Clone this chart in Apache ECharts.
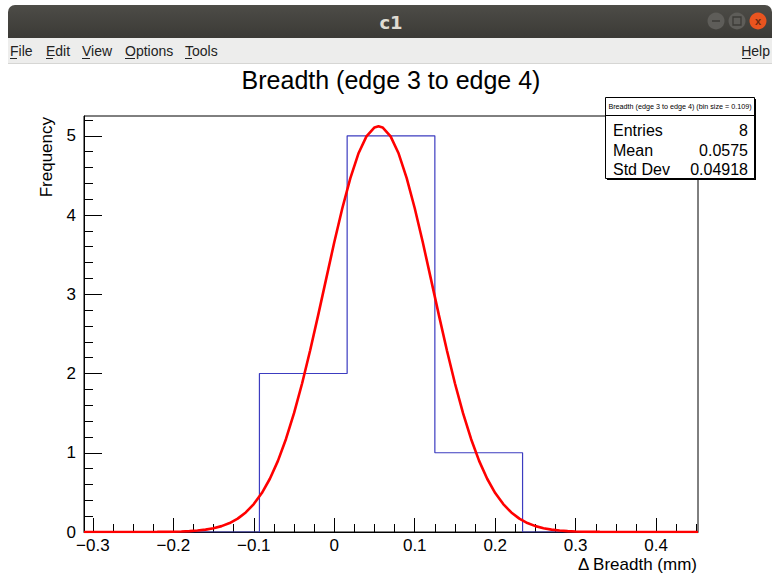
<!DOCTYPE html>
<html>
<head>
<meta charset="utf-8">
<script src="https://cdn.jsdelivr.net/npm/echarts@6/dist/echarts.min.js"></script>
<style>
html,body{margin:0;padding:0;background:#fff;}
#c{width:772px;height:584px;}
</style>
</head>
<body>
<div id="c"></div>
<script>
// ---- data ----
var binEdges = [-0.311, -0.202, -0.093, 0.016, 0.125, 0.234, 0.343, 0.452];
var binCounts = [0, 0, 2, 5, 1, 0, 0];
var fitX = [-0.311, -0.22, -0.21, -0.20, -0.19, -0.18, -0.17, -0.16, -0.15, -0.14, -0.13, -0.12, -0.11, -0.10, -0.09, -0.08, -0.07, -0.06, -0.05, -0.04, -0.03, -0.02, -0.01, 0.00, 0.01, 0.02, 0.03, 0.04, 0.05, 0.055, 0.06, 0.07, 0.08, 0.09, 0.10, 0.11, 0.12, 0.13, 0.14, 0.15, 0.16, 0.17, 0.18, 0.19, 0.20, 0.21, 0.22, 0.23, 0.24, 0.25, 0.26, 0.27, 0.28, 0.29, 0.30, 0.31, 0.32, 0.33, 0.452];
var fitY = [0, 0.0011, 0.0021, 0.0037, 0.0064, 0.0109, 0.0182, 0.0297, 0.0475, 0.0741, 0.1133, 0.169, 0.247, 0.352, 0.492, 0.672, 0.898, 1.174, 1.500, 1.874, 2.290, 2.737, 3.198, 3.656, 4.086, 4.467, 4.776, 4.993, 5.106, 5.12, 5.106, 4.993, 4.776, 4.467, 4.086, 3.656, 3.198, 2.737, 2.290, 1.874, 1.500, 1.174, 0.898, 0.672, 0.492, 0.352, 0.247, 0.169, 0.1133, 0.0741, 0.0475, 0.0297, 0.0182, 0.0109, 0.0064, 0.0037, 0.0021, 0.0011, 0];
var xMajorTicks = [-0.3, -0.2, -0.1, 0, 0.1, 0.2, 0.3, 0.4];
var xTickLabels = ['\u22120.3', '\u22120.2', '\u22120.1', '0', '0.1', '0.2', '0.3', '0.4'];
var xMinorTicks = [-0.3, -0.275, -0.25, -0.225, -0.2, -0.175, -0.15, -0.125, -0.1, -0.075, -0.05, -0.025, 0, 0.025, 0.05, 0.075, 0.1, 0.125, 0.15, 0.175, 0.2, 0.225, 0.25, 0.275, 0.3, 0.325, 0.35, 0.375, 0.4, 0.425, 0.45];
var yMajorTicks = [0, 1, 2, 3, 4, 5];
var yTickLabels = ['0', '1', '2', '3', '4', '5'];
var yMinorTicks = [0, 0.2, 0.4, 0.6, 0.8, 1, 1.2, 1.4, 1.6, 1.8, 2, 2.2, 2.4, 2.6, 2.8, 3, 3.2, 3.4, 3.6, 3.8, 4, 4.2, 4.4, 4.6, 4.8, 5, 5.2];
var statsLabels = ['Entries', 'Mean', 'Std Dev'];
var statsValues = ['8', '0.0575', '0.04918'];
var chartTitle = 'Breadth (edge 3 to edge 4)';
var statsTitle = 'Breadth (edge 3 to edge 4) (bin size = 0.109)';
var menuItems = ['File', 'Edit', 'View', 'Options', 'Tools'];

// ---- build ----
var histData = [];
for (var i = 0; i < binCounts.length; i++) histData.push([binEdges[i], binCounts[i]]);
histData.push([binEdges[binEdges.length - 1], binCounts[binCounts.length - 1]]);
var fitData = fitX.map(function (x, i) { return [x, fitY[i]]; });

var FONT = '"Liberation Sans", Arial, Helvetica, sans-serif';
var X0 = 84, Y0 = 116, W = 614, H = 416;

function fmtX(v) {
  var idx = xMajorTicks.findIndex(function (t) { return Math.abs(t - v) < 1e-9; });
  return idx >= 0 ? xTickLabels[idx] : '';
}
function fmtY(v) {
  var idx = yMajorTicks.findIndex(function (t) { return Math.abs(t - v) < 1e-9; });
  return idx >= 0 ? yTickLabels[idx] : '';
}

var chart = echarts.init(document.getElementById('c'), null, { renderer: 'svg' });

var graphics = [];
// window title bar
graphics.push({
  type: 'rect', shape: { x: 8, y: 5, width: 764, height: 33, r: [7, 7, 0, 0] },
  style: { fill: new echarts.graphic.LinearGradient(0, 0, 0, 1, [{ offset: 0, color: '#4d4c47' }, { offset: 1, color: '#3b3a36' }]) }, z: 1
});
graphics.push({ type: 'text', x: 391, y: 22, style: { text: 'c1', fill: '#dfdbd2', font: 'bold 18px "DejaVu Sans", sans-serif', align: 'center', verticalAlign: 'middle' }, z: 2 });
// buttons
graphics.push({ type: 'circle', shape: { cx: 716, cy: 21, r: 8.5 }, style: { fill: '#5e5d59' }, z: 2 });
graphics.push({ type: 'line', shape: { x1: 712, y1: 21, x2: 720, y2: 21 }, style: { stroke: '#3c3b37', lineWidth: 1.5 }, z: 3 });
graphics.push({ type: 'circle', shape: { cx: 737, cy: 21, r: 8.5 }, style: { fill: '#5e5d59' }, z: 2 });
graphics.push({ type: 'rect', shape: { x: 733, y: 17, width: 8, height: 8 }, style: { fill: 'none', stroke: '#3c3b37', lineWidth: 1.3 }, z: 3 });
graphics.push({ type: 'circle', shape: { cx: 758, cy: 21, r: 8.5 }, style: { fill: '#e9541f' }, z: 2 });
graphics.push({ type: 'text', x: 758, y: 21, style: { text: 'x', fill: '#6b2a10', font: 'bold 11px sans-serif', align: 'center', verticalAlign: 'middle' }, z: 3 });
// menu bar
graphics.push({ type: 'rect', shape: { x: 8, y: 38, width: 764, height: 25 }, style: { fill: '#ededec' }, z: 1 });
graphics.push({ type: 'line', shape: { x1: 8, y1: 63.5, x2: 772, y2: 63.5 }, style: { stroke: '#d6d6d4', lineWidth: 1 }, z: 1 });
var menuX = [10, 46, 82, 125, 185];
var menuFont = '14px "Liberation Sans Narrow", "Liberation Sans", Arial, sans-serif';
menuItems.forEach(function (m, i) {
  graphics.push({ type: 'text', x: menuX[i], y: 51, style: { text: m, fill: '#222', font: menuFont, verticalAlign: 'middle' }, z: 2 });
});
graphics.push({ type: 'text', x: 770, y: 51, style: { text: 'Help', fill: '#222', font: menuFont, align: 'right', verticalAlign: 'middle' }, z: 2 });
var ul = [[10, 17], [46, 53], [82, 90], [125, 135], [185, 192], [742, 751]];
ul.forEach(function (u) {
  graphics.push({ type: 'line', shape: { x1: u[0], y1: 58.5, x2: u[1], y2: 58.5 }, style: { stroke: '#222', lineWidth: 1 }, z: 2 });
});
// chart title
graphics.push({ type: 'text', x: 391, y: 80, style: { text: chartTitle, fill: '#000', font: '25px ' + FONT, align: 'center', verticalAlign: 'middle' }, z: 5 });
// axis titles
graphics.push({ type: 'text', x: 46, y: 117, rotation: Math.PI / 2, style: { text: 'Frequency', fill: '#000', font: '17px ' + FONT, align: 'right', verticalAlign: 'middle' }, z: 5 });
graphics.push({ type: 'text', x: 697, y: 564, style: { text: '\u0394 Breadth (mm)', fill: '#000', font: '17px ' + FONT, align: 'right', verticalAlign: 'middle' }, z: 5 });
// stats box (with ROOT-style shadow)
var SB = { x: 605, y: 97, w: 149, h: 81 };
graphics.push({ type: 'rect', shape: { x: SB.x + 2, y: SB.y + 2, width: SB.w, height: SB.h }, style: { fill: '#000' }, z: 20 });
graphics.push({ type: 'rect', shape: { x: SB.x + 0.5, y: SB.y + 0.5, width: SB.w, height: SB.h }, style: { fill: '#fff', stroke: '#000', lineWidth: 1 }, z: 21 });
graphics.push({ type: 'line', shape: { x1: SB.x + 0.5, y1: 115.5, x2: SB.x + SB.w + 0.5, y2: 115.5 }, style: { stroke: '#000', lineWidth: 1 }, z: 22 });
graphics.push({ type: 'text', x: SB.x + SB.w / 2 + 0.5, y: 106.5, style: { text: statsTitle, fill: '#000', font: '7.2px ' + FONT, align: 'center', verticalAlign: 'middle' }, z: 22 });
var rowY = [130, 150, 169];
statsLabels.forEach(function (s, i) {
  graphics.push({ type: 'text', x: 613, y: rowY[i], style: { text: s, fill: '#000', font: '16px ' + FONT, verticalAlign: 'middle' }, z: 22 });
  graphics.push({ type: 'text', x: 748, y: rowY[i], style: { text: statsValues[i], fill: '#000', font: '16px ' + FONT, align: 'right', verticalAlign: 'middle' }, z: 22 });
});

var option = {
  backgroundColor: '#ffffff',
  animation: false,
  grid: { left: X0, top: Y0, width: W, height: H, show: true, borderColor: '#000', borderWidth: 1, backgroundColor: 'transparent' },
  xAxis: [
    {
      type: 'value', min: binEdges[0], max: binEdges[binEdges.length - 1], position: 'bottom',
      axisLine: { show: true, onZero: false, lineStyle: { color: '#000', width: 1 } },
      axisTick: { show: true, inside: true, length: 14, customValues: xMajorTicks, lineStyle: { color: '#000', width: 1 } },
      axisLabel: { show: true, customValues: xMajorTicks, formatter: fmtX, margin: 5, color: '#000', fontSize: 17, fontFamily: FONT },
      splitLine: { show: false }
    },
    {
      type: 'value', min: binEdges[0], max: binEdges[binEdges.length - 1], position: 'bottom', offset: 0,
      axisLine: { show: false, onZero: false },
      axisTick: { show: true, inside: true, length: 8, customValues: xMinorTicks, lineStyle: { color: '#000', width: 1 } },
      axisLabel: { show: false },
      splitLine: { show: false }
    }
  ],
  yAxis: [
    {
      type: 'value', min: 0, max: 5.25, position: 'left',
      axisLine: { show: true, onZero: false, lineStyle: { color: '#000', width: 1 } },
      axisTick: { show: true, inside: true, length: 18, customValues: yMajorTicks, lineStyle: { color: '#000', width: 1 } },
      axisLabel: { show: true, customValues: yMajorTicks, formatter: fmtY, margin: 8, color: '#000', fontSize: 17, fontFamily: FONT },
      splitLine: { show: false }
    },
    {
      type: 'value', min: 0, max: 5.25, position: 'left', offset: 0,
      axisLine: { show: false, onZero: false },
      axisTick: { show: true, inside: true, length: 9, customValues: yMinorTicks, lineStyle: { color: '#000', width: 1 } },
      axisLabel: { show: false },
      splitLine: { show: false }
    }
  ],
  series: [
    {
      type: 'line', name: 'hist', data: histData, step: 'end', xAxisIndex: 0, yAxisIndex: 0,
      showSymbol: false, symbol: 'none', lineStyle: { color: '#3c3cc0', width: 1.2 }, z: 3, silent: true
    },
    {
      type: 'line', name: 'fit', data: fitData, smooth: false, xAxisIndex: 0, yAxisIndex: 0,
      showSymbol: false, symbol: 'none', lineStyle: { color: '#ff0000', width: 2.6 }, z: 4, silent: true
    }
  ],
  graphic: graphics
};
chart.setOption(option);
</script>
</body>
</html>
